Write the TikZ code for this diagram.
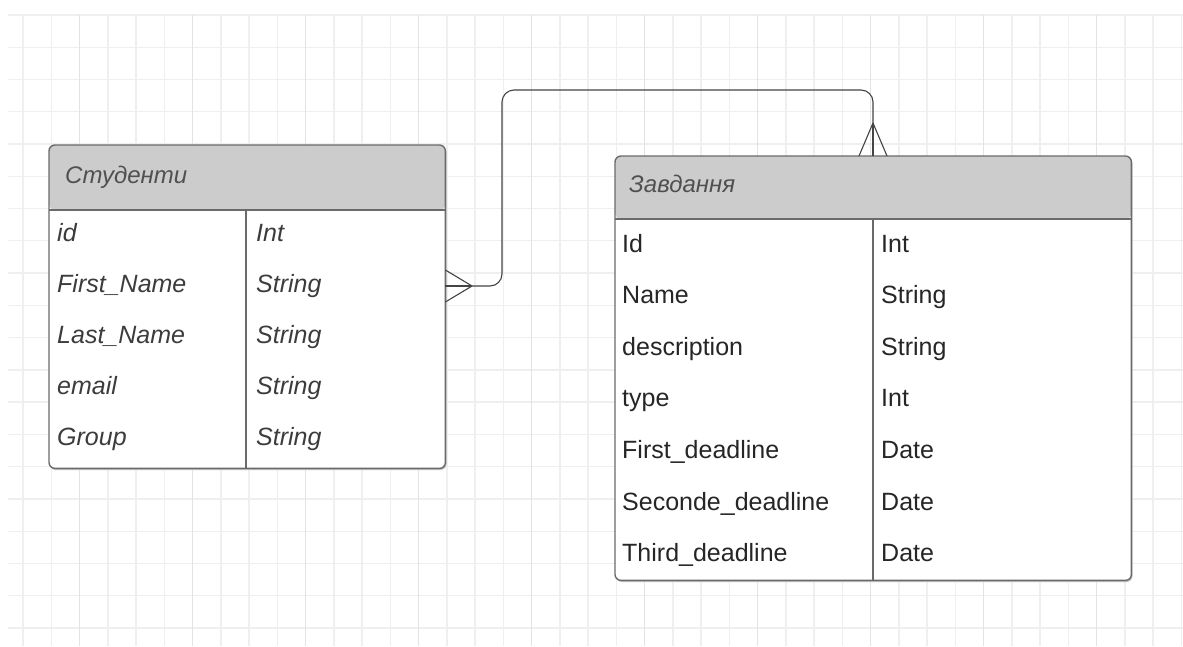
\documentclass[tikz,border=0pt]{standalone}
\usepackage{fontspec}
\setmainfont{Liberation Sans}
\definecolor{gridminor}{HTML}{EFEFEF}
\definecolor{gridmajor}{HTML}{E3E3E3}
\definecolor{headfill}{HTML}{CCCCCC}
\definecolor{framecol}{HTML}{6A6A6A}
\definecolor{textcol}{HTML}{262626}
\definecolor{italcol}{HTML}{3C3C3C}
\definecolor{titlecol}{HTML}{505050}
\definecolor{linkcol}{HTML}{444444}
\begin{document}
\begin{tikzpicture}[x=1pt,y=-1pt,
  gridline/.style={draw=gridminor,line width=1.3pt},
  gridmain/.style={draw=gridmajor,line width=1.5pt},
  tablebox/.style={fill=white,inner sep=0pt,anchor=north west,rounded corners=6pt,
    path picture={\fill[headfill] (path picture bounding box.north west)
      rectangle ([yshift=-#1]path picture bounding box.north east);}},
  frame/.style={draw=framecol,line width=1.4pt},
  shade/.style={fill=black!25,rounded corners=6pt},
  title/.style={anchor=base west,inner sep=0pt,text=titlecol,
    font=\fontsize{24}{28}\selectfont\itshape},
  fieldit/.style={anchor=base west,inner sep=0pt,text=italcol,
    font=\fontsize{25}{30}\selectfont\itshape},
  field/.style={anchor=base west,inner sep=0pt,text=textcol,
    font=\fontsize{25}{30}\selectfont},
  link/.style={draw=linkcol,line width=1.1pt},
]
\useasboundingbox[fill=white] (0,0) rectangle (1183,646);

% background grid
\foreach \k in {0,...,19}
  \draw[gridline] (8,15+32.26*\k) -- (1183,15+32.26*\k);
\foreach \i in {-2,...,39}{
  \pgfmathtruncatemacro{\m}{mod(\i+40,4)}
  \ifnum\m=0
    \draw[gridmain] (79.6+28.25*\i,15) -- (79.6+28.25*\i,646);
  \else
    \draw[gridline] (79.6+28.25*\i,15) -- (79.6+28.25*\i,646);
  \fi
}

% table: Студенти
\fill[shade] (50,146.5) rectangle (446.5,470);
\node[tablebox=65pt,minimum width=396pt,minimum height=323pt] (stud) at (49,145) {};
\draw[frame] (49,210) -- (445,210);
\draw[frame] (246,210) -- (246,468);
\draw[frame,rounded corners=6pt] (stud.north west) rectangle (stud.south east);
\node[title] (studT) at (65,183) {Студенти};
\node[fieldit] (s1n) at (57,241) {id};
\node[fieldit] (s1t) at (256,241) {Int};
\node[fieldit] (s2n) at (57,292) {First\_Name};
\node[fieldit] (s2t) at (256,292) {String};
\node[fieldit] (s3n) at (57,343) {Last\_Name};
\node[fieldit] (s3t) at (256,343) {String};
\node[fieldit] (s4n) at (57,394) {email};
\node[fieldit] (s4t) at (256,394) {String};
\node[fieldit] (s5n) at (57,445) {Group};
\node[fieldit] (s5t) at (256,445) {String};

% table: Завдання
\fill[shade] (616,157.5) rectangle (1132.5,582);
\node[tablebox=63pt,minimum width=516pt,minimum height=424pt] (task) at (615,156) {};
\draw[frame] (615,219) -- (1131,219);
\draw[frame] (873,219) -- (873,580);
\draw[frame,rounded corners=6pt] (task.north west) rectangle (task.south east);
\node[title] (taskT) at (629,192) {Завдання};
\node[field] (t1n) at (622,252) {Id};
\node[field] (t1t) at (881,252) {Int};
\node[field] (t2n) at (622,303.6) {Name};
\node[field] (t2t) at (881,303.6) {String};
\node[field] (t3n) at (622,355.2) {description};
\node[field] (t3t) at (881,355.2) {String};
\node[field] (t4n) at (622,406.8) {type};
\node[field] (t4t) at (881,406.8) {Int};
\node[field] (t5n) at (622,458.4) {First\_deadline};
\node[field] (t5t) at (881,458.4) {Date};
\node[field] (t6n) at (622,510) {Seconde\_deadline};
\node[field] (t6t) at (881,510) {Date};
\node[field] (t7n) at (622,561.6) {Third\_deadline};
\node[field] (t7t) at (881,561.6) {Date};

% relationship with crow's feet at both ends
\coordinate (sp) at (stud.east |- 0,286);
\coordinate (sj) at (472,286);
\coordinate (tp) at (873,156);
\coordinate (tj) at (873,123);
\draw[link,rounded corners=12pt] (sj) -- (502,286) -- (502,90) -- (873,90) -- (tj);
\draw[link] (sj) -- (sp);
\draw[link] (sj) -- ([yshift=16pt]sp);
\draw[link] (sj) -- ([yshift=-16pt]sp);
\draw[link] (tj) -- (tp);
\draw[link] (tj) -- ([xshift=-14pt]tp);
\draw[link] (tj) -- ([xshift=14pt]tp);
\end{tikzpicture}
\end{document}
